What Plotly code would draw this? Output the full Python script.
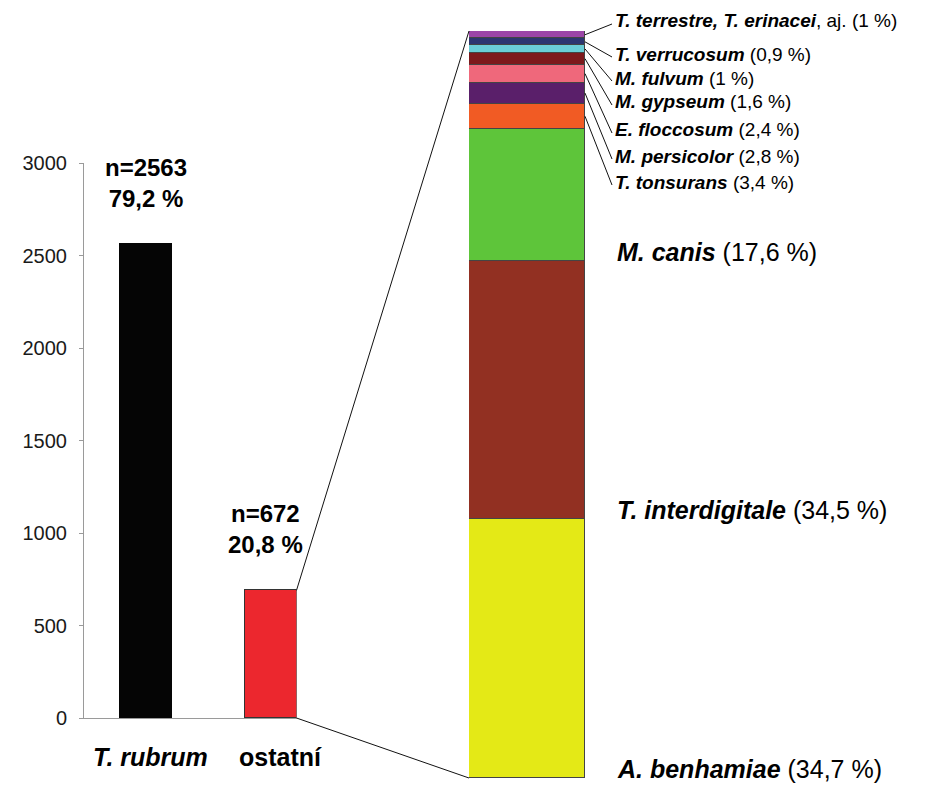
import plotly.graph_objects as go

# left chart: counts
groups = ["T. rubrum", "ostatní"]
group_labels = ["<b><i>T. rubrum</i></b>", "<b>ostatní</b>"]
counts = [2563, 690]
count_text = ["<b>n=2563<br>79,2 %</b>", "<b>n=672<br>20,8 %</b>"]
group_colors = ["#050505", "#EC272E"]

# right chart: share of the "ostatní" group, bottom to top
species = ["A. benhamiae", "T. interdigitale", "M. canis", "T. tonsurans",
           "M. persicolor", "E. floccosum", "M. gypseum", "M. fulvum",
           "T. verrucosum", "T. terrestre, T. erinacei"]
suffix = ["", "", "", "", "", "", "", "", "", ", aj."]
pct = [34.7, 34.5, 17.6, 3.4, 2.8, 2.4, 1.6, 1.0, 0.9, 1.0]
colors = ["#E4E916", "#923022", "#5EC53A", "#F15B24", "#5A1F6A", "#EF687B",
          "#7D191C", "#6ACED7", "#2C3670", "#9B45A7"]

W, H = 933, 800
FONT = "Liberation Sans, Arial, sans-serif"

# the page body has an 8px margin, so shift screen pixels into paper coords
PX0, PXW = 8, W
PY0, PYH = 8, H


def px(x):
    return (x - PX0) / PXW


def py(y):
    return 1 - (y - PY0) / PYH


def fmt(p):
    return f"{p:g}".replace(".", ",")


# axis placement
x1_dom = [px(84), px(296.5)]
x1_rng = [-0.5, 1.207]
y1_dom = [py(718), py(163)]
y1_rng = [0, 3000]
x2_dom = [px(469), px(585)]
y2_dom = [py(778), py(31)]
total = sum(pct)


def x1_paper(v):
    return x1_dom[0] + (v - x1_rng[0]) / (x1_rng[1] - x1_rng[0]) * (x1_dom[1] - x1_dom[0])


def y1_paper(v):
    return y1_dom[0] + (v - y1_rng[0]) / (y1_rng[1] - y1_rng[0]) * (y1_dom[1] - y1_dom[0])


def y2_paper(v):
    return y2_dom[0] + v / total * (y2_dom[1] - y2_dom[0])


BAR_W = 0.414

fig = go.Figure()
fig.add_trace(go.Bar(
    x=[0, 1], y=counts, width=BAR_W,
    marker=dict(color=group_colors, line=dict(color=["#050505", "#333333"], width=1)),
    xaxis="x", yaxis="y", showlegend=False, hoverinfo="skip"))

for name, p, c in zip(species, pct, colors):
    fig.add_trace(go.Bar(
        x=[0], y=[p], width=1, name=name,
        marker=dict(color=c, line=dict(color="#444444", width=1)),
        xaxis="x2", yaxis="y2", showlegend=False))

annotations = []
shapes = []

# n= labels over bars, category names below
for i, (v, t, g) in enumerate(zip(counts, count_text, group_labels)):
    annotations.append(dict(
        x=i, y=v, xref="x", yref="y", text=t, showarrow=False,
        yanchor="bottom", yshift=30, xshift=-5 if i else 0,
        font=dict(family=FONT, size=24, color="#000"), align="center"))
    annotations.append(dict(
        x=i, y=0, xref="x", yref="y", text=g, showarrow=False,
        yanchor="middle", yshift=-39, xshift=10 if i else 4,
        font=dict(family=FONT, size=25, color="#000")))

# connector lines from the red bar to the stacked bar
red_right = x1_paper(1 + BAR_W / 2)
shapes.append(dict(type="line", xref="paper", yref="paper",
                   x0=red_right, y0=y1_paper(counts[1]), x1=x2_dom[0], y1=y2_dom[1],
                   line=dict(color="#111", width=1)))
shapes.append(dict(type="line", xref="paper", yref="paper",
                   x0=red_right, y0=y1_paper(0), x1=x2_dom[0], y1=y2_dom[0],
                   line=dict(color="#111", width=1)))

# big labels for the three main species
base = 0
for k in range(len(pct)):
    if k < 3:
        annotations.append(dict(
            x=px(615), y=base, xref="paper", yref="y2", xanchor="left", yanchor="middle",
            yshift=9, showarrow=False,
            text=f"<b><i>{species[k]}</i></b> ({fmt(pct[k])} %)",
            font=dict(family=FONT, size=25, color="#000")))
    base += pct[k]

# small labels with leader lines (top to bottom)
label_y_px = [21, 54, 78, 102, 130, 156, 182]
cum = [sum(pct[:k]) for k in range(len(pct))]
small = list(range(len(pct) - 1, 2, -1))
for k, ly in zip(small, label_y_px):
    mid = cum[k] + pct[k] / 2
    shapes.append(dict(type="line", xref="paper", yref="paper",
                       x0=x2_dom[1], y0=y2_paper(mid), x1=px(612), y1=py(ly + 3),
                       line=dict(color="#111", width=1)))
    annotations.append(dict(
        x=px(613), y=py(ly), xref="paper", yref="paper", xanchor="left", yanchor="middle",
        showarrow=False,
        text=f"<b><i>{species[k]}</i></b>{suffix[k]} ({fmt(pct[k])} %)",
        font=dict(family=FONT, size=19, color="#000")))

fig.update_layout(
    template="none",
    width=W, height=H,
    margin=dict(l=0, r=0, t=0, b=0, autoexpand=False),
    paper_bgcolor="white", plot_bgcolor="white",
    barmode="stack", bargap=0,
    font=dict(family=FONT, color="#222"),
    xaxis=dict(domain=x1_dom, range=x1_rng, showticklabels=False, automargin=False,
               showline=True, linecolor="#9a9a9a", ticks="", showgrid=False, zeroline=False,
               anchor="y"),
    yaxis=dict(domain=y1_dom, range=y1_rng, tickvals=list(range(0, 3001, 500)),
               showline=True, linecolor="#9a9a9a", ticks="outside", ticklen=4,
               tickcolor="#9a9a9a", showgrid=False, zeroline=False, automargin=False,
               tickfont=dict(size=20, color="#1a1a1a"), ticklabelstandoff=8, anchor="x"),
    xaxis2=dict(domain=x2_dom, range=[-0.5, 0.5], visible=False, anchor="y2"),
    yaxis2=dict(domain=y2_dom, range=[0, total], visible=False, anchor="x2"),
    annotations=annotations,
    shapes=shapes,
)

fig.write_html("out.html")
